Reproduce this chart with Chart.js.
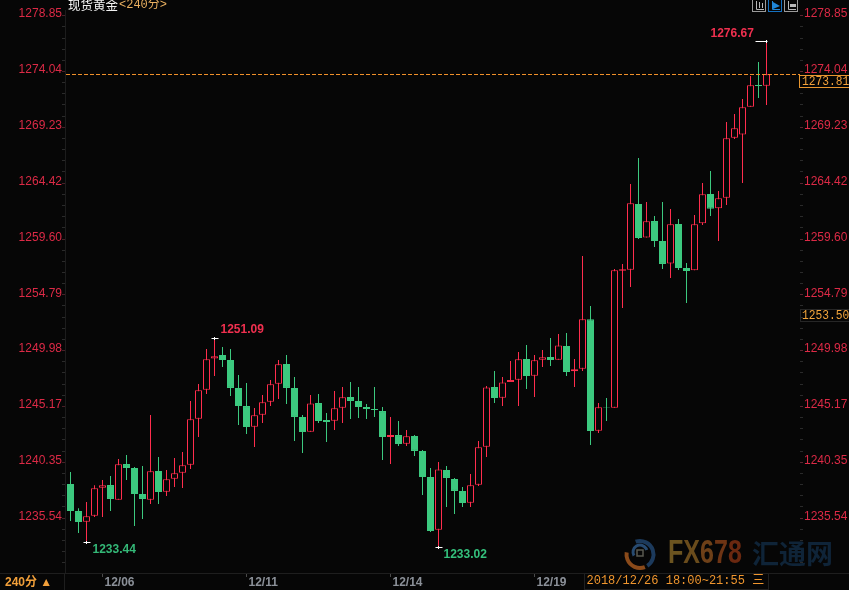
<!DOCTYPE html>
<html>
<head>
<meta charset="utf-8">
<title>现货黄金 240分</title>
<style>
html, body { margin: 0; padding: 0; background: #060606; }
canvas { display: block; }
</style>
<script src="https://cdn.jsdelivr.net/npm/chart.js@4"></script>
</head>
<body>
<canvas id="myChart" width="849" height="590"></canvas>
<script>
// 240 minute candles, oldest first
const opens = [1238.48, 1236.15, 1235.23, 1235.75, 1238.16, 1238.39, 1237.13, 1240.20, 1239.86, 1237.62, 1237.13, 1239.60, 1237.82, 1238.94, 1239.46, 1240.15, 1244.11, 1246.61, 1249.29, 1249.60, 1249.17, 1246.76,
    1245.20, 1243.42, 1244.46, 1245.58, 1247.13, 1248.83, 1246.76, 1244.26, 1242.99, 1245.46, 1244.00, 1243.94, 1245.06, 1245.98, 1245.64, 1245.12, 1244.95, 1244.77, 1242.53, 1242.70, 1241.96, 1242.62,
    1241.33, 1239.08, 1234.54, 1239.69, 1238.91, 1237.88, 1236.87, 1238.42, 1241.70, 1246.84, 1245.92, 1247.27, 1247.47, 1249.26, 1247.82, 1249.20, 1249.43, 1249.20, 1250.38, 1248.19, 1248.42, 1252.68,
    1243.08, 1245.09, 1245.06, 1256.87, 1256.96, 1262.62, 1259.72, 1261.15, 1259.43, 1257.48, 1260.90, 1257.10, 1256.90, 1260.95, 1263.48, 1262.25, 1263.16, 1268.34, 1268.60, 1271.01, 1272.88, 1272.82];
const highs = [1239.52, 1236.38, 1236.93, 1238.37, 1238.83, 1239.17, 1240.64, 1240.98, 1239.95, 1240.03, 1244.43, 1240.81, 1239.69, 1240.72, 1241.24, 1245.64, 1247.10, 1250.12, 1251.09, 1250.29, 1250.12, 1247.88,
    1247.19, 1245.03, 1246.15, 1247.45, 1249.17, 1249.60, 1247.70, 1244.43, 1246.15, 1246.24, 1244.60, 1246.50, 1246.84, 1247.27, 1246.84, 1245.38, 1246.84, 1245.12, 1244.26, 1243.91, 1243.14, 1242.70,
    1241.41, 1239.86, 1240.38, 1240.03, 1239.00, 1238.22, 1239.34, 1242.19, 1246.93, 1248.22, 1247.70, 1249.08, 1249.86, 1250.46, 1249.60, 1250.03, 1251.07, 1251.41, 1251.50, 1249.26, 1258.14, 1253.83,
    1245.46, 1245.89, 1257.02, 1257.45, 1264.34, 1266.58, 1262.79, 1261.58, 1262.79, 1262.19, 1261.33, 1257.53, 1261.67, 1264.43, 1265.46, 1263.74, 1269.69, 1270.38, 1271.67, 1273.65, 1274.86, 1276.67];
const lows = [1235.29, 1234.26, 1233.44, 1235.64, 1235.64, 1236.15, 1237.13, 1238.83, 1234.86, 1235.46, 1236.76, 1236.76, 1237.45, 1238.22, 1238.14, 1239.77, 1242.53, 1246.24, 1247.79, 1248.57, 1246.07, 1243.57,
    1242.79, 1241.67, 1243.74, 1245.20, 1245.81, 1245.38, 1242.19, 1241.15, 1242.99, 1243.74, 1242.10, 1243.14, 1243.74, 1244.08, 1244.17, 1244.08, 1244.26, 1240.55, 1240.20, 1241.76, 1241.76, 1240.89,
    1237.53, 1234.34, 1233.02, 1236.50, 1235.89, 1236.50, 1236.50, 1238.31, 1240.81, 1245.46, 1245.20, 1247.27, 1245.20, 1246.67, 1245.98, 1248.57, 1248.65, 1249.20, 1247.79, 1246.84, 1248.22, 1241.84,
    1242.88, 1243.91, 1245.06, 1253.65, 1255.46, 1259.60, 1259.72, 1258.91, 1257.02, 1256.24, 1256.93, 1254.08, 1256.90, 1260.81, 1261.58, 1259.43, 1262.53, 1268.22, 1264.43, 1271.01, 1271.76, 1271.15];
const closes = [1236.15, 1235.20, 1235.69, 1238.11, 1238.37, 1237.19, 1240.18, 1239.86, 1237.62, 1237.19, 1239.57, 1237.79, 1238.88, 1239.40, 1240.09, 1244.06, 1246.56, 1249.23, 1249.49, 1249.17, 1246.76, 1245.20,
    1243.39, 1244.40, 1245.52, 1247.07, 1248.80, 1246.76, 1244.26, 1242.96, 1245.43, 1243.91, 1243.83, 1245.00, 1245.95, 1245.64, 1245.12, 1244.95, 1244.86, 1242.53, 1242.70, 1241.93, 1242.59, 1241.33,
    1239.08, 1234.43, 1239.74, 1239.00, 1237.88, 1236.84, 1238.37, 1241.64, 1246.81, 1245.89, 1247.24, 1247.45, 1249.23, 1247.79, 1249.14, 1249.40, 1249.17, 1250.43, 1248.14, 1248.37, 1252.68, 1243.05,
    1245.09, 1245.06, 1256.90, 1256.99, 1262.68, 1259.69, 1261.13, 1259.43, 1257.45, 1260.87, 1257.10, 1256.84, 1260.87, 1263.45, 1262.21, 1263.11, 1268.28, 1269.14, 1270.95, 1272.85, 1272.79, 1273.81];

const dateIndexes = [4, 22, 40, 58];
const dateLabels = ['12/06', '12/11', '12/14', '12/19'];
const priceTicks = ['1278.85', '1274.04', '1269.23', '1264.42', '1259.60', '1254.79', '1249.98', '1245.17', '1240.35', '1235.54'];

// high / low markers: candle index, price, text side
const extremes = [
    { i: 18, price: 1251.09, color: '#f0304f', dx: 6, dy: -9 },
    { i: 87, price: 1276.67, color: '#f0304f', dx: -56, dy: -8 },
    { i: 2, price: 1233.44, color: '#34b877', dx: 6, dy: 7 },
    { i: 46, price: 1233.02, color: '#34c07c', dx: 5, dy: 7 }
];
const lastPrice = 1273.81;
const cursorPrice = '1253.50';

const RED = '#ff2d4d';
const GREEN = '#3cc97f';
const BG = '#060606';
const TICK_RED = '#dc2a46';
const ORANGE = '#f2a03a';

const isDown = opens.map((o, i) => closes[i] < o);
const upperColor = isDown.map(d => d ? GREEN : RED);

function priceAxisTicks(scale) {
    const majors = priceTicks.map(Number);
    const step = (majors[0] - majors[1]) / 5;
    const out = [];
    majors.forEach(v => {
        out.push({ value: v, major: true });
        for (let k = 1; k < 5; k++) {
            const m = v - step * k;
            if (m > scale.min) out.push({ value: m });
        }
    });
    out.push({ value: 1235.54 - step * 3 });
    scale.ticks = out;
}

function priceTickLabel(value) {
    const s = value.toFixed(2);
    return priceTicks.includes(s) ? s : '';
}

// narrow mono text for the boxes on the price axis
function boxText(c, text, x, y) {
    c.save();
    c.translate(x, y);
    c.scale(0.9, 1);
    c.font = '12.5px "Liberation Mono"';
    c.fillText(text, 0, 0);
    c.restore();
}

const overlay = {
    id: 'overlay',
    beforeDraw(chart) {
        const c = chart.ctx;
        c.save();
        c.fillStyle = BG;
        c.fillRect(0, 0, chart.width, chart.height);
        c.restore();
    },
    afterDatasetsDraw(chart) {
        const c = chart.ctx;
        const xs = chart.scales.x;
        const ys = chart.scales.y;
        const area = chart.chartArea;
        c.save();

        // last price dashed line
        const yLast = Math.round(ys.getPixelForValue(lastPrice)) + 0.5;
        c.strokeStyle = '#f0902a';
        c.lineWidth = 1;
        c.setLineDash([4, 2]);
        c.beginPath();
        c.moveTo(area.left + 1, yLast);
        c.lineTo(area.right, yLast);
        c.stroke();
        c.setLineDash([]);

        // highest / lowest markers
        c.textBaseline = 'middle';
        extremes.forEach(e => {
            const x = xs.getPixelForValue(e.i);
            const y = Math.round(ys.getPixelForValue(e.price)) + 0.5;
            c.strokeStyle = '#ffffff';
            c.beginPath();
            if (e.i === 87) {
                c.moveTo(x - 11, y);
                c.lineTo(x + 1, y);
            } else {
                c.moveTo(x - 3, y);
                c.lineTo(x + 4, y);
            }
            c.moveTo(x, y - 1.5);
            c.lineTo(x, y + 1.5);
            c.stroke();
            c.fillStyle = e.color;
            c.font = 'bold 12px "Liberation Sans"';
            c.textAlign = 'left';
            c.fillText(e.price.toFixed(2), x + e.dx, y + e.dy);
        });

        // title
        c.textAlign = 'left';
        c.font = '12.5px "Noto Sans CJK SC"';
        c.fillStyle = '#f2f2f2';
        c.fillText('现货黄金', 68, 5);
        c.font = '12px "Liberation Mono", "Noto Sans CJK SC"';
        c.fillStyle = '#eab060';
        c.fillText('<240分>', 119, 5);

        // right side price boxes
        c.fillStyle = BG;
        c.fillRect(799.5, 75.5, 50, 12);
        c.strokeStyle = '#e8962f';
        c.strokeRect(799.5, 75.5, 50, 12);
        c.fillStyle = ORANGE;
        boxText(c, lastPrice.toFixed(2), 802, 82);
        c.strokeStyle = '#262626';
        c.strokeRect(800.5, 309.5, 49, 12);
        c.fillStyle = '#f2a53c';
        boxText(c, cursorPrice, 802, 316);

        // toolbar icons
        [[752, '#9a9a9a', '#b8b8b8'], [768, '#1470c0', '#1f86d8'], [784, '#9a9a9a', '#b8b8b8']].forEach(b => {
            c.strokeStyle = b[1];
            c.strokeRect(b[0] + 0.5, -1.5, 13, 13);
            c.strokeStyle = b[2];
            c.fillStyle = b[2];
            c.beginPath();
            c.moveTo(b[0] + 4.5, 1);
            c.lineTo(b[0] + 4.5, 9.5);
            c.lineTo(b[0] + 12, 9.5);
            c.stroke();
            if (b[0] === 768) {
                c.beginPath();
                c.moveTo(b[0] + 5, 2);
                c.lineTo(b[0] + 12, 6);
                c.lineTo(b[0] + 5, 9);
                c.fill();
            } else if (b[0] === 752) {
                c.fillRect(b[0] + 7, 2, 1, 6);
                c.fillRect(b[0] + 10, 3, 1, 5);
            } else {
                c.fillRect(b[0] + 6, 4, 6, 3);
            }
        });

        // bottom strip
        c.strokeStyle = '#1e1e1e';
        c.beginPath();
        c.moveTo(0, 573.5);
        c.lineTo(849, 573.5);
        c.moveTo(64.5, 573);
        c.lineTo(64.5, 590);
        c.stroke();
        c.fillStyle = ORANGE;
        c.font = 'bold 12px "Liberation Sans", "Noto Sans CJK SC"';
        c.fillText('240分 ▲', 5, 583);
        c.strokeStyle = '#202020';
        c.strokeRect(584.5, 573.5, 184, 16);
        c.fillStyle = '#f0962e';
        c.font = '12px "Liberation Mono", "Noto Sans CJK SC"';
        c.fillText('2018/12/26 18:00~21:55 三', 586.5, 581);

        // watermark
        c.lineWidth = 4;
        c.strokeStyle = '#1c3a5c';
        c.beginPath();
        c.arc(640, 554.5, 13.5, -1.9, 1.0);
        c.stroke();
        c.strokeStyle = '#8a4a1a';
        c.beginPath();
        c.arc(640, 554.5, 13.5, 1.2, 3.3);
        c.stroke();
        c.lineWidth = 3;
        c.strokeStyle = '#274a70';
        c.beginPath();
        c.arc(640, 552, 7, 2.6, 6.0);
        c.stroke();
        c.strokeStyle = '#5a5a50';
        c.lineWidth = 1.5;
        c.strokeRect(637, 550, 6, 6);
        c.lineWidth = 1;

        c.save();
        c.translate(668, 554);
        c.scale(0.76, 1);
        c.font = 'bold 33px "Liberation Sans"';
        const letters = ['F', 'X', '6', '7', '8'];
        const tint = ['#6b5420', '#6a4c1c', '#6e4018', '#6e3414', '#6a2810'];
        let px = 0;
        letters.forEach((l, i) => {
            c.fillStyle = tint[i];
            c.fillText(l, px, 0);
            px += c.measureText(l).width;
        });
        c.restore();
        c.fillStyle = '#0f2438';
        c.font = 'bold 27px "Noto Sans CJK SC"';
        c.fillText('汇通网', 752, 554);

        c.restore();
    }
};

const ctx = document.getElementById('myChart').getContext('2d');
new Chart(ctx, {
    type: 'bar',
    data: {
        datasets: [
            {
                // candle bodies
                data: opens.map((o, i) => ({ x: i, y: [o, closes[i]] })),
                backgroundColor: isDown.map(d => d ? GREEN : BG),
                borderColor: upperColor,
                borderWidth: 1,
                borderSkipped: false,
                inflateAmount: 0,
                barThickness: 7,
                grouped: false,
                order: 1
            },
            {
                // wicks
                data: lows.map((l, i) => ({ x: i, y: [l, highs[i]] })),
                backgroundColor: upperColor,
                borderWidth: 0,
                inflateAmount: 0,
                barThickness: 1,
                grouped: false,
                order: 2
            }
        ]
    },
    options: {
        responsive: false,
        animation: false,
        devicePixelRatio: 1,
        layout: { padding: { top: 10 } },
        plugins: { legend: { display: false }, tooltip: { enabled: false } },
        scales: {
            x: {
                type: 'linear',
                offset: false,
                min: -0.6875,
                max: 91.1875,
                afterBuildTicks: s => { s.ticks = dateIndexes.map(v => ({ value: v })); },
                afterFit: s => { s.height = 17; },
                grid: { offset: false, drawOnChartArea: false, tickColor: '#4a4a4a', tickLength: 4 },
                border: { color: '#1e1e1e' },
                ticks: {
                    autoSkip: false,
                    maxRotation: 0,
                    align: 'start',
                    labelOffset: 2,
                    padding: -2,
                    color: '#8b9098',
                    font: { family: '"Liberation Sans"', size: 12, weight: 'bold' },
                    callback: v => dateLabels[dateIndexes.indexOf(v)] || ''
                }
            },
            y: {
                position: 'left',
                min: 1230.8079,
                max: 1279.3424,
                afterBuildTicks: priceAxisTicks,
                afterFit: s => { s.width = 65; },
                grid: { drawOnChartArea: false, tickColor: c => c.tick && c.tick.major ? '#4a2028' : '#2a2a2a', tickLength: 3 },
                border: { color: '#1c1c1c' },
                ticks: {
                    autoSkip: false,
                    padding: 0,
                    labelOffset: -1.6,
                    color: TICK_RED,
                    font: { family: '"Liberation Sans"', size: 12 },
                    callback: priceTickLabel
                }
            },
            yRight: {
                position: 'right',
                min: 1230.8079,
                max: 1279.3424,
                afterBuildTicks: priceAxisTicks,
                afterFit: s => { s.width = 49; },
                grid: { drawOnChartArea: false, tickColor: c => c.tick && c.tick.major ? '#5a2530' : '#2a2a2a', tickLength: 3 },
                border: { display: false },
                ticks: {
                    autoSkip: false,
                    padding: 1,
                    labelOffset: -1.6,
                    color: TICK_RED,
                    font: { family: '"Liberation Sans"', size: 12 },
                    callback: priceTickLabel
                }
            }
        }
    },
    plugins: [overlay]
});
</script>
</body>
</html>
